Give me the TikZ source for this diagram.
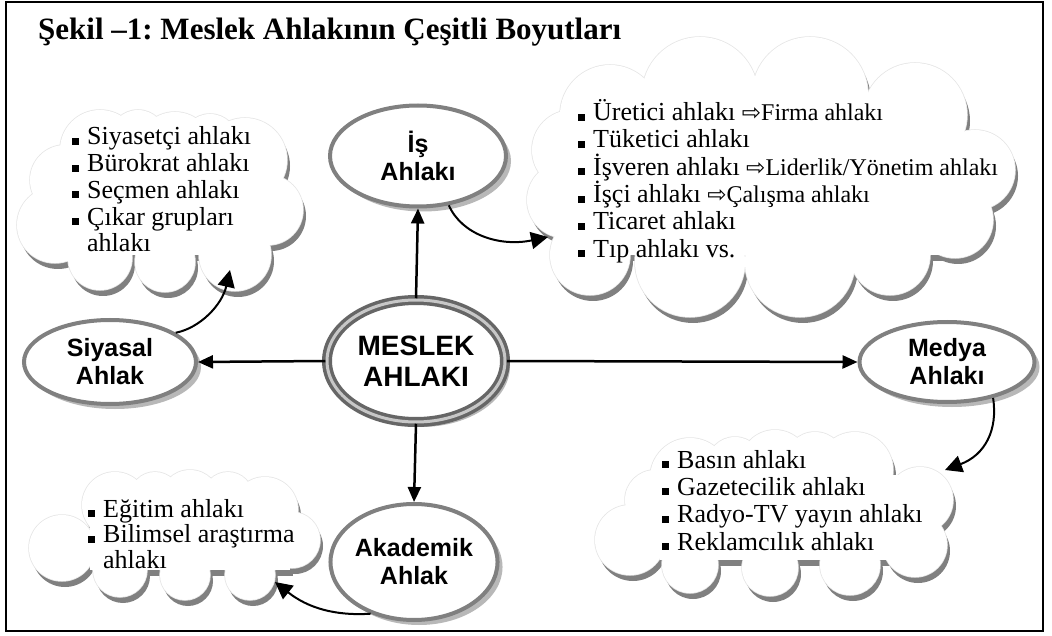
\documentclass[tikz,border=0pt]{standalone}
\usepackage{fontspec}
\setmainfont{Liberation Serif}
\newfontfamily\arialf{Liberation Sans}
\newfontfamily\dejavuf{DejaVu Sans}
\usetikzlibrary{shapes.geometric,shadows,arrows.meta}
\frenchspacing

\newcommand\bul{\makebox[15pt][l]{\rule{7pt}{7pt}}}
\newcommand\hang{\hspace*{15pt}}
\newcommand\sarr{{\dejavuf\fontsize{23}{23}\selectfont ⇨}}
\newcommand\smalltxt[1]{{\fontsize{24}{27.3}\selectfont #1}}

\newcommand\mycloud[2]{%
  \begin{scope}[shift={(3,6)}]
    \foreach \cx/\cy/\r in {#1} {\fill[black!50] (\cx,\cy) circle[radius=\r*1pt];}
    \fill[black!50] #2;
  \end{scope}
  \foreach \cx/\cy/\r in {#1} {\draw[black!10, line width=1.5pt] (\cx,\cy) circle[radius=\r*1pt];}
  \foreach \cx/\cy/\r in {#1} {\fill[white] (\cx,\cy) circle[radius=\r*1pt];}
  \fill[white] #2;
}

\tikzset{
  ell/.style={ellipse, draw=black!50, line width=4pt, fill=white, inner sep=0pt,
    align=center, font=\arialf\bfseries\fontsize{25}{28}\selectfont,
    drop shadow={shadow xshift=5pt, shadow yshift=-5pt, fill=black!28, opacity=1}},
  mesell/.style={draw=black!60, double=black!22, double distance=3pt, line width=3.5pt,
    font=\arialf\bfseries\fontsize{28}{31}\selectfont},
  conn/.style={-{Triangle[length=15pt,width=13pt]}, line width=2.5pt},
  curv/.style={-{Triangle[length=17pt,width=17pt]}, line width=2pt},
  cloudtxt/.style={align=left, inner sep=0pt, font=\fontsize{26}{27.3}\selectfont},
  titletxt/.style={inner sep=0pt, font=\bfseries\fontsize{31}{36}\selectfont},
}

\begin{document}
\begin{tikzpicture}[x=1pt,y=-1pt]
\useasboundingbox (0,0) rectangle (1052,636);
\fill[white] (0,0) rectangle (1052,636);

% clouds
\mycloud{610/115/50, 700/95/58, 810/95/58, 915/115/52, 975/170/40, 955/220/38, 890/255/40, 800/262/55, 690/262/55, 590/255/40, 565/200/38, 572/150/40}{(590,110) rectangle (960,255)}
\mycloud{100/150/40, 138/138/28, 175/150/38, 210/142/28, 245/160/42, 268/210/35, 235/255/36, 165/262/30, 100/258/32, 55/225/38, 65/180/35}{(80,150) rectangle (260,255)}
\mycloud{690/478/40, 735/465/28, 775/465/35, 815/462/30, 855/470/38, 920/500/33, 915/545/32, 850/565/30, 770/568/28, 690/565/28, 630/540/35, 655/500/30}{(660,475) rectangle (915,560)}
\mycloud{115/505/33, 155/497/25, 190/500/30, 228/497/25, 265/510/33, 292/540/28, 250/575/25, 185/575/25, 120/570/27, 62/548/33}{(90,500) rectangle (290,570)}

% frame
\draw[line width=2pt] (6,2) rectangle (1043,631);

% title
\node[titletxt, anchor=base west] (title) at (38,40) {Şekil –1: Meslek Ahlakının Çeşitli Boyutları};

% ellipses
\node[ell, mesell, minimum width=178pt, minimum height=122pt] (mes) at (416,361) {MESLEK\\AHLAKI};
\node[ell, minimum width=176pt, minimum height=101pt] (is) at (418,156) {İş\\Ahlakı};
\node[ell, minimum width=172pt, minimum height=84pt] (siy) at (110,362) {Siyasal\\Ahlak};
\node[ell, minimum width=175pt, minimum height=80pt] (med) at (947,362) {Medya\\Ahlakı};
\node[ell, minimum width=161pt, minimum height=116pt] (ak) at (414,562) {Akademik\\Ahlak};

% cloud texts (anchor = baseline of the last line)
\node[cloudtxt, anchor=base west] (tis) at (578,257.2) {\bul Üretici ahlakı \smalltxt{\sarr Firma ahlakı}\\
\bul Tüketici ahlakı\\
\bul İşveren ahlakı \smalltxt{\sarr Liderlik/Yönetim ahlakı}\\
\bul İşçi ahlakı \smalltxt{\sarr Çalışma ahlakı}\\
\bul Ticaret ahlakı\\
\bul Tıp ahlakı vs.};
\node[cloudtxt, anchor=base west, font=\fontsize{26}{26.75}\selectfont] (tsiy) at (72,252) {\bul Siyasetçi ahlakı\\
\bul Bürokrat ahlakı\\
\bul Seçmen ahlakı\\
\bul Çıkar grupları\\
\hang ahlakı};
\node[cloudtxt, anchor=base west] (tmed) at (662,550) {\bul Basın ahlakı\\
\bul Gazetecilik ahlakı\\
\bul Radyo-TV yayın ahlakı\\
\bul Reklamcılık ahlakı};
\node[cloudtxt, anchor=base west, font=\fontsize{26}{25.5}\selectfont] (tak) at (88,568) {\bul Eğitim ahlakı\\
\bul Bilimsel araştırma\\
\hang ahlakı};

% straight connectors
\draw[conn] (mes.north) -- (is.south);
\draw[conn] (mes.west) -- (siy.east);
\draw[conn] (mes.east) -- (med.west);
\draw[conn] (mes.south) -- (ak.north);

% curved connectors to clouds
\coordinate (isTip) at (548,237);
\coordinate (siyTip) at (230,270);
\coordinate (medTip) at (945,470);
\coordinate (akTip) at (275,582);
\draw[curv] (is.-58) .. controls (462,235) and (500,247) .. (isTip);
\draw[curv] (siy.24) .. controls (200,328) and (222,305) .. (siyTip);
\draw[curv] (med.-38) .. controls (998,430) and (985,455) .. (medTip);
\draw[curv] (ak.-130) .. controls (335,616) and (308,608) .. (akTip);
\end{tikzpicture}
\end{document}
